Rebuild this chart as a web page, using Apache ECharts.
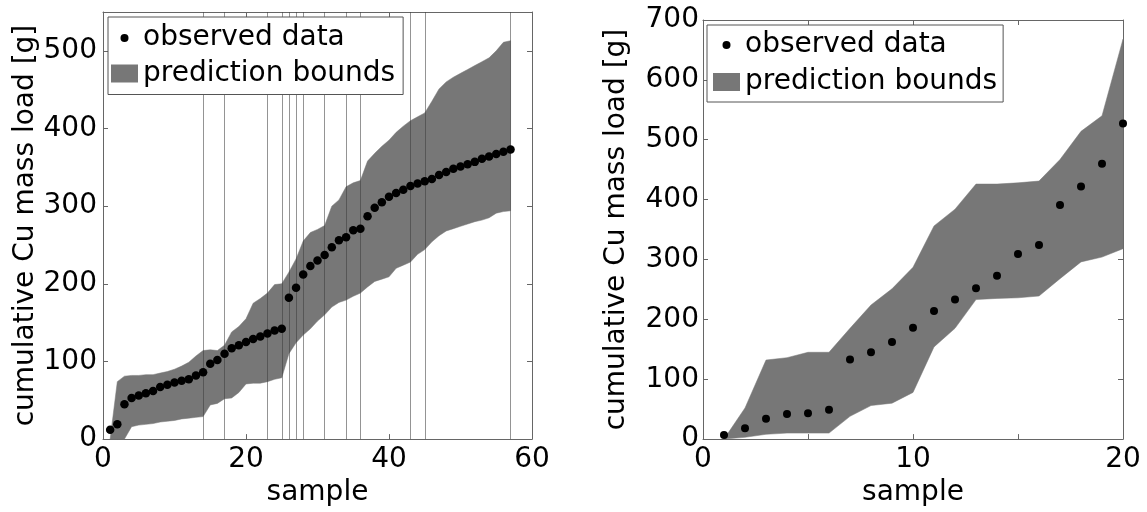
<!DOCTYPE html>
<html>
<head>
<meta charset="utf-8">
<script src="https://cdn.jsdelivr.net/npm/echarts@6/dist/echarts.min.js"></script>
<style>
html,body{margin:0;padding:0;background:#fff;}
#chart{width:1147px;height:512px;}
</style>
</head>
<body>
<div id="chart"></div>
<script>
// ---- Left panel data ----
const leftSample = [1,2,3,4,5,6,7,8,9,10,11,12,13,14,15,16,17,18,19,20,21,22,23,24,25,26,27,28,29,30,31,32,33,34,35,36,37,38,39,40,41,42,43,44,45,46,47,48,49,50,51,52,53,54,55,56,57];
const leftObserved = [12,19,45,53,56,59,62,67,70,73,75,77,82,86,97,102,110,117,121,125,129,132,136,140,142,182,195,212,223,230,237,247,256,260,269,271,287,298,305,312,317,321,326,329,332,335,340,344,348,351,354,357,361,364,367,370,373];
const leftUpper = [0,74,81,82,82,83,83,85,87,90,94,99,107,114,115,114,121,138,145,155,175,181,188,199,200,215,232,255,266,270,275,300,308,325,330,333,358,368,377,385,395,403,410,415,420,435,451,460,466,471,476,481,486,491,500,511,513];
const leftLower = [0,0,0,16,18,19,20,22,23,24,26,27,28,29,44,46,52,53,60,71,72,72,74,77,79,110,124,134,142,152,160,170,176,179,184,188,196,203,206,209,220,224,228,238,244,254,262,268,271,274,277,280,282,285,291,293,294];
const leftMarkers = [14,17,23,25,26,27,28,31,34,36,43,45,57];
const leftXTicks = [0,20,40,60];
const leftYTicks = [0,100,200,300,400,500];

// ---- Right panel data ----
const rightSample = [1,2,3,4,5,6,7,8,9,10,11,12,13,14,15,16,17,18,19,20];
const rightObserved = [7,18,34,42,43,49,133,145,162,186,214,233,252,273,309,324,391,422,460,527];
const rightUpper = [0,52,132,136,145,145,185,224,251,287,356,384,426,426,428,431,467,514,540,668];
const rightLower = [0,3,8,10,10,10,38,56,60,78,154,185,233,235,236,239,268,296,304,318];
const rightXTicks = [0,10,20];
const rightYTicks = [0,100,200,300,400,500,600,700];

const FONT = 'DejaVu Sans';
const AXIS_COLOR = '#666';
const BAND = '#777777';

const chart = echarts.init(document.getElementById('chart'), null, {renderer:'canvas'});

function baseAxis(extra){
  return Object.assign({
    type:'value',
    axisLine:{show:true, onZero:false, lineStyle:{color:AXIS_COLOR, width:1}},
    axisTick:{show:true, inside:true, length:5, lineStyle:{color:AXIS_COLOR}},
    splitLine:{show:false},
    axisLabel:{show:false}
  }, extra);
}
function labelStyle(ticks, margin){
  return {show:true, color:'#000', fontFamily:FONT, fontSize:28, margin:margin,
    formatter:v => ticks.indexOf(v) >= 0 ? String(v) : ''};
}
const nameStyle = {color:'#000', fontFamily:FONT, fontSize:28};

function bandSeries(xi, yi, xs, up, lo){
  return {
    type:'custom', name:'prediction bounds', xAxisIndex:xi, yAxisIndex:yi,
    data:[[xs[0], lo[0]]], silent:true, z:1, animation:false,
    itemStyle:{color:BAND},
    renderItem:function(params, api){
      const pts = [];
      for (let i = 0; i < xs.length; i++) pts.push(api.coord([xs[i], up[i]]));
      for (let i = xs.length - 1; i >= 0; i--) pts.push(api.coord([xs[i], lo[i]]));
      return {type:'polygon', shape:{points:pts}, style:{fill:BAND, stroke:BAND, lineWidth:0.5}};
    }
  };
}
function pointSeries(xi, yi, xs, ys, markers, size){
  const s = {
    type:'scatter', name:'observed data', xAxisIndex:xi, yAxisIndex:yi,
    data: xs.map((x,i)=>[x, ys[i]]), symbol:'circle', symbolSize:size,
    itemStyle:{color:'#000', opacity:1}, z:3, silent:true, animation:false
  };
  if (markers) {
    s.markLine = {
      silent:true, z:2, symbol:['none','none'], animation:false,
      label:{show:false},
      lineStyle:{type:'solid', color:'rgba(60,60,60,0.55)', width:1},
      data: markers.map(m => ({xAxis:m}))
    };
  }
  return s;
}

const dotIcon = 'path://M0,0 M27,18 M9.5,9 A4,4 0 1 1 17.5,9 A4,4 0 1 1 9.5,9 Z';
function legendAt(left, top, padding, gap){
  return {
    left:left, top:top, orient:'vertical', padding:padding, itemGap:gap,
    itemWidth:27, itemHeight:18, borderColor:'#555', borderWidth:1, backgroundColor:'#fff',
    selectedMode:false,
    textStyle:{color:'#000', fontFamily:FONT, fontSize:28},
    data:[
      {name:'observed data', icon:dotIcon, itemStyle:{color:'#000', opacity:1}},
      {name:'prediction bounds', icon:'rect', itemStyle:{color:BAND}}
    ]
  };
}

const option = {
  backgroundColor:'#fff',
  animation:false,
  grid:[
    {left:103, top:12, width:429, height:429},
    {left:703, top:20, width:420, height:421}
  ],
  xAxis:[
    baseAxis({gridIndex:0, position:'bottom', min:0, max:60, interval:20,
      axisLabel:labelStyle(leftXTicks, 7),
      name:'sample', nameLocation:'middle', nameGap:37, nameTextStyle:nameStyle}),
    baseAxis({gridIndex:0, position:'top', min:0, max:60, interval:20}),
    baseAxis({gridIndex:1, position:'bottom', min:0, max:20, interval:5,
      axisLabel:labelStyle(rightXTicks, 7),
      name:'sample', nameLocation:'middle', nameGap:37, nameTextStyle:nameStyle}),
    baseAxis({gridIndex:1, position:'top', min:0, max:20, interval:5})
  ],
  yAxis:[
    baseAxis({gridIndex:0, position:'left', min:0, max:550, interval:100,
      axisLabel:labelStyle(leftYTicks, 6),
      name:'cumulative Cu mass load [g]', nameLocation:'middle', nameGap:58, nameRotate:90, nameTextStyle:nameStyle}),
    baseAxis({gridIndex:0, position:'right', min:0, max:550, interval:100}),
    baseAxis({gridIndex:1, position:'left', min:0, max:700, interval:100,
      axisLabel:labelStyle(rightYTicks, 4),
      name:'cumulative Cu mass load [g]', nameLocation:'middle', nameGap:72, nameRotate:90, nameTextStyle:nameStyle}),
    baseAxis({gridIndex:1, position:'right', min:0, max:700, interval:100})
  ],
  legend:[
    legendAt(108, 17, [7, 8, 7, 3], 7.5),
    legendAt(707, 25, [6, 6, 6, 6], 9)
  ],
  series:[
    bandSeries(0, 0, leftSample, leftUpper, leftLower),
    pointSeries(0, 0, leftSample, leftObserved, leftMarkers, 8.5),
    bandSeries(2, 2, rightSample, rightUpper, rightLower),
    pointSeries(2, 2, rightSample, rightObserved, null, 8)
  ]
};
chart.setOption(option);
</script>
</body>
</html>
